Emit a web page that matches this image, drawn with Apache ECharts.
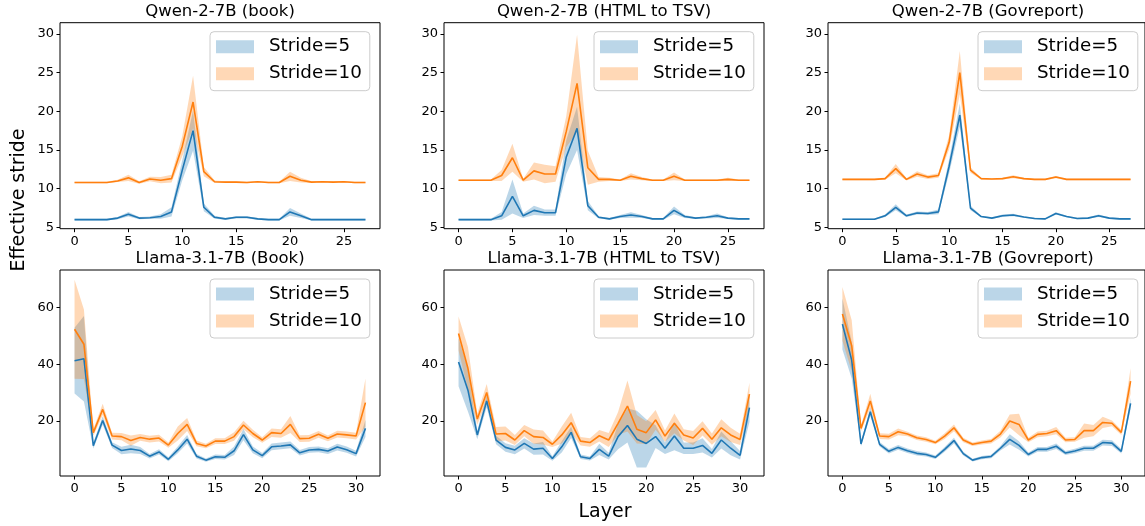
<!DOCTYPE html>
<html>
<head>
<meta charset="utf-8">
<script src="https://cdn.jsdelivr.net/npm/echarts@6/dist/echarts.min.js"></script>
<style>
  html, body { margin: 0; padding: 0; background: #fff; }
  #chart { width: 1145px; height: 526px; }
</style>
</head>
<body>
<div id="chart"></div>
<script>
// x values (layer index)
const qwenLayers = [0,1,2,3,4,5,6,7,8,9,10,11,12,13,14,15,16,17,18,19,20,21,22,23,24,25,26,27];
const llamaLayers = [0,1,2,3,4,5,6,7,8,9,10,11,12,13,14,15,16,17,18,19,20,21,22,23,24,25,26,27,28,29,30,31];

// Qwen-2-7B (book)
const qwenBook5 = [6.0,6.0,6.0,6.0,6.2,6.7,6.2,6.25,6.4,7.0,12.4,17.5,7.6,6.3,6.1,6.3,6.3,6.1,6.0,6.0,7.0,6.5,6.0,6.0,6.0,6.0,6.0,6.0];
const qwenBook5Std = [0.1,0.1,0.1,0.1,0.15,0.3,0.15,0.15,0.3,0.6,1.3,2.6,0.5,0.2,0.1,0.15,0.15,0.1,0.1,0.1,0.5,0.3,0.1,0.1,0.1,0.1,0.1,0.1];
const qwenBook10 = [10.8,10.8,10.8,10.8,11.0,11.4,10.8,11.25,11.1,11.3,15.5,21.2,12.2,10.9,10.85,10.85,10.8,10.9,10.8,10.8,11.6,11.1,10.85,10.9,10.85,10.9,10.8,10.8];
const qwenBook10Std = [0.1,0.1,0.1,0.1,0.15,0.4,0.15,0.3,0.4,0.5,1.3,3.4,0.6,0.15,0.1,0.1,0.1,0.1,0.1,0.1,0.6,0.3,0.1,0.1,0.1,0.1,0.1,0.1];

// Qwen-2-7B (HTML to TSV)
const qwenHtml5 = [6.0,6.0,6.0,6.0,6.5,9.0,6.5,7.2,6.9,6.9,14.1,17.8,7.8,6.3,6.1,6.4,6.6,6.4,6.1,6.1,7.2,6.4,6.2,6.3,6.5,6.2,6.1,6.1];
const qwenHtml5Std = [0.1,0.1,0.1,0.1,0.5,2.2,0.3,0.6,0.4,0.4,2.2,2.8,0.6,0.15,0.1,0.2,0.35,0.2,0.1,0.1,0.5,0.2,0.1,0.15,0.3,0.1,0.1,0.1];
const qwenHtml10 = [11.1,11.1,11.1,11.1,11.7,14.0,11.1,12.3,11.9,11.9,17.4,23.6,12.7,11.2,11.2,11.1,11.6,11.3,11.1,11.1,11.6,11.1,11.1,11.1,11.1,11.2,11.1,11.1];
const qwenHtml10Std = [0.1,0.1,0.1,0.1,0.7,1.8,0.2,1.1,1.2,1.0,2.0,6.3,2.2,0.3,0.2,0.1,0.4,0.2,0.1,0.1,0.5,0.1,0.1,0.1,0.1,0.2,0.1,0.1];

// Qwen-2-7B (Govreport)
const qwenGov5 = [6.05,6.05,6.05,6.05,6.5,7.6,6.5,6.85,6.8,7.0,12.9,19.5,7.5,6.4,6.2,6.5,6.6,6.35,6.15,6.1,6.8,6.4,6.15,6.2,6.5,6.2,6.1,6.1];
const qwenGov5Std = [0.1,0.1,0.1,0.1,0.15,0.4,0.15,0.2,0.2,0.3,0.9,1.5,0.3,0.1,0.1,0.15,0.15,0.1,0.1,0.1,0.15,0.1,0.1,0.1,0.15,0.1,0.1,0.1];
const qwenGov10 = [11.2,11.2,11.2,11.2,11.3,12.6,11.2,11.9,11.5,11.7,16.0,25.0,12.4,11.3,11.25,11.3,11.55,11.3,11.2,11.2,11.5,11.2,11.2,11.2,11.2,11.2,11.2,11.2];
const qwenGov10Std = [0.1,0.1,0.1,0.1,0.15,0.6,0.15,0.35,0.25,0.3,0.9,2.8,0.35,0.1,0.1,0.1,0.2,0.1,0.1,0.1,0.15,0.1,0.1,0.1,0.1,0.1,0.1,0.1];

// Llama-3.1-7B (Book)
const llamaBook5 = [41.3,42.0,11.3,20.2,11.5,9.6,10.1,9.6,7.6,9.1,6.5,9.8,13.6,7.6,6.2,7.4,7.2,9.5,15.2,9.8,7.8,10.9,11.2,11.6,8.8,9.8,10.0,9.4,10.8,9.9,8.5,17.4];
const llamaBook5Std = [11.6,15.1,1.0,1.5,1.0,1.3,1.5,1.2,0.8,0.9,0.7,1.2,1.5,0.8,0.6,0.8,0.8,1.5,2.0,1.2,0.9,1.2,1.2,1.2,1.0,1.0,1.0,1.0,1.2,1.1,1.0,3.0];
const llamaBook10 = [52.4,47.1,15.9,24.1,14.7,14.5,13.1,14.2,13.6,14.0,11.5,15.6,18.8,12.1,11.2,12.9,12.9,14.5,18.6,15.6,13.3,15.9,15.6,18.8,13.8,13.9,15.3,13.9,15.4,15.1,14.7,26.5];
const llamaBook10Std = [17.5,12.3,1.2,2.0,1.2,1.3,1.8,1.2,1.2,1.2,0.9,2.5,2.3,1.0,0.8,1.0,1.0,1.5,1.5,1.3,1.0,1.5,1.5,3.0,1.2,1.2,1.2,1.0,1.2,1.2,1.2,8.5];

// Llama-3.1-7B (HTML to TSV)
const llamaHtml5 = [40.8,30.9,15.1,27.1,13.3,10.7,9.8,12.1,10.1,10.4,6.8,10.9,16.0,7.4,6.8,10.0,7.6,14.5,18.4,13.6,12.1,14.5,10.4,14.7,10.4,10.4,11.4,8.6,13.3,10.4,7.9,24.7];
const llamaHtml5Std = [8.5,7.5,1.5,2.2,1.5,1.5,1.5,1.8,2.0,2.2,0.8,2.0,2.0,0.8,0.7,2.0,1.2,4.5,6.0,10.0,8.5,4.0,2.0,5.0,2.0,2.0,2.5,1.5,3.0,2.5,1.5,5.0];
const llamaHtml10 = [50.9,38.6,20.7,30.1,15.4,15.6,13.3,16.6,14.5,14.2,11.8,15.1,19.4,12.9,12.4,14.8,13.3,19.2,25.3,17.1,15.9,20.4,14.7,19.2,15.1,14.0,17.4,13.6,17.6,15.1,13.5,29.5];
const llamaHtml10Std = [6.0,7.5,2.0,3.0,2.5,2.5,1.8,2.0,2.5,2.5,1.0,3.0,3.5,1.5,1.5,2.0,2.5,4.0,9.0,5.0,4.0,3.5,2.0,3.5,2.0,2.5,2.5,2.0,3.0,2.5,2.0,4.0];

// Llama-3.1-7B (Govreport)
const llamaGov5 = [54.2,41.5,11.9,23.3,11.8,9.3,10.7,9.5,8.6,8.2,7.2,10.0,13.1,8.5,6.2,7.1,7.5,10.4,13.5,11.4,8.2,10.0,10.0,11.1,8.7,9.4,10.4,10.4,12.4,12.2,9.3,26.2];
const llamaGov5Std = [9.0,6.5,0.8,1.5,0.8,0.8,0.8,0.8,0.8,0.7,0.6,0.8,1.0,0.7,0.5,0.6,0.6,0.8,1.8,1.5,0.7,0.8,0.8,1.0,0.7,0.8,0.9,0.9,1.0,1.0,0.8,2.0];
const llamaGov10 = [57.8,46.6,17.4,27.1,14.7,14.5,16.2,15.4,14.1,13.5,12.4,14.7,17.6,13.3,11.8,12.4,12.9,15.4,20.0,18.8,13.3,15.3,15.6,16.6,13.3,13.5,16.6,16.6,19.5,19.2,16.0,34.1];
const llamaGov10Std = [9.5,9.0,1.0,2.5,1.0,1.0,1.2,0.8,0.8,0.8,0.6,1.0,1.2,0.8,0.6,0.7,0.8,1.2,2.3,3.8,0.8,1.0,1.0,1.3,0.8,0.8,2.5,2.0,2.0,1.0,0.9,4.5];

const panelTitles = ["Qwen-2-7B (book)", "Qwen-2-7B (HTML to TSV)", "Qwen-2-7B (Govreport)",
                     "Llama-3.1-7B (Book)", "Llama-3.1-7B (HTML to TSV)", "Llama-3.1-7B (Govreport)"];
const legendNames = ["Stride=5", "Stride=10"];
const qwenXTicks = [0,5,10,15,20,25];
const llamaXTicks = [0,5,10,15,20,25,30];
const qwenYTicks = [5,10,15,20,25,30];
const llamaYTicks = [20,40,60];

const FONT = "DejaVu Sans";
const BLUE = "#1f77b4", ORANGE = "#ff7f0e";
const BLUE_BAND = "rgba(31,119,180,0.3)", ORANGE_BAND = "rgba(255,127,14,0.3)";

const panels = [
  {x: qwenLayers, s5: qwenBook5, e5: qwenBook5Std, s10: qwenBook10, e10: qwenBook10Std},
  {x: qwenLayers, s5: qwenHtml5, e5: qwenHtml5Std, s10: qwenHtml10, e10: qwenHtml10Std},
  {x: qwenLayers, s5: qwenGov5, e5: qwenGov5Std, s10: qwenGov10, e10: qwenGov10Std},
  {x: llamaLayers, s5: llamaBook5, e5: llamaBook5Std, s10: llamaBook10, e10: llamaBook10Std},
  {x: llamaLayers, s5: llamaHtml5, e5: llamaHtml5Std, s10: llamaHtml10, e10: llamaHtml10Std},
  {x: llamaLayers, s5: llamaGov5, e5: llamaGov5Std, s10: llamaGov10, e10: llamaGov10Std}
];

const lefts = [60, 444, 828];
const tops = [22.7, 270];
const W = 320, H = 206;

let grids = [], xAxes = [], yAxes = [], legends = [], series = [], graphics = [];

// band = mean +- std, drawn as one polygon through the axis scales
function bandSeries(name, rows, color, idx) {
  return {
    name: name,
    type: "custom",
    xAxisIndex: idx,
    yAxisIndex: idx,
    silent: true,
    itemStyle: {color: color},
    encode: {x: 0, y: [1, 2]},
    data: rows,
    renderItem: function (params, api) {
      if (params.dataIndex !== 0) return null;
      let upper = rows.map(r => api.coord([r[0], r[2]]));
      let lower = rows.map(r => api.coord([r[0], r[1]])).reverse();
      return {
        type: "polygon",
        shape: {points: upper.concat(lower)},
        style: {fill: color, stroke: null}
      };
    }
  };
}

function lineSeries(name, xs, ys, color, idx) {
  return {
    name: name,
    type: "line",
    xAxisIndex: idx,
    yAxisIndex: idx,
    showSymbol: false,
    symbol: "none",
    silent: true,
    lineStyle: {width: 1.6, color: color},
    itemStyle: {color: color},
    data: xs.map((x, i) => [x, ys[i]])
  };
}

panels.forEach((p, i) => {
  let row = i < 3 ? 0 : 1;
  let L = lefts[i % 3], T = tops[row];
  let isQwen = row === 0;
  grids.push({left: L, top: T, width: W, height: H, show: true, borderColor: "#000", borderWidth: 1, backgroundColor: "transparent"});
  let tickStyle = {show: true, inside: false, length: 3.5, lineStyle: {color: "#000", width: 1}};
  let labelStyle = {color: "#000", fontSize: 13, fontFamily: FONT, margin: 6};
  xAxes.push({
    type: "value", gridIndex: i,
    min: isQwen ? -1.35 : -1.55, max: isQwen ? 28.35 : 32.55,
    axisLine: {show: false, onZero: false},
    splitLine: {show: false},
    axisTick: Object.assign({}, tickStyle, {customValues: isQwen ? qwenXTicks : llamaXTicks}),
    axisLabel: Object.assign({}, labelStyle, {customValues: isQwen ? qwenXTicks : llamaXTicks})
  });
  yAxes.push({
    type: "value", gridIndex: i,
    min: isQwen ? 4.83 : 0.6, max: isQwen ? 31.45 : 73.3,
    axisLine: {show: false, onZero: false},
    splitLine: {show: false},
    axisTick: Object.assign({}, tickStyle, {customValues: isQwen ? qwenYTicks : llamaYTicks}),
    axisLabel: Object.assign({}, labelStyle, {customValues: isQwen ? qwenYTicks : llamaYTicks})
  });

  let rows5 = p.x.map((x, k) => [x, p.s5[k] - p.e5[k], p.s5[k] + p.e5[k]]);
  let rows10 = p.x.map((x, k) => [x, p.s10[k] - p.e10[k], p.s10[k] + p.e10[k]]);
  series.push(bandSeries(legendNames[0], rows5, BLUE_BAND, i));
  series.push(lineSeries("mean5", p.x, p.s5, BLUE, i));
  series.push(bandSeries(legendNames[1], rows10, ORANGE_BAND, i));
  series.push(lineSeries("mean10", p.x, p.s10, ORANGE, i));

  legends.push({
    left: L + 150, top: T + 9,
    orient: "vertical",
    selectedMode: false,
    data: [
      {name: legendNames[0], itemStyle: {color: BLUE_BAND, borderWidth: 0}},
      {name: legendNames[1], itemStyle: {color: ORANGE_BAND, borderWidth: 0}}
    ],
    icon: "rect",
    itemWidth: 38, itemHeight: 13, itemGap: 7,
    padding: [5, 8, 7, 6],
    backgroundColor: "rgba(255,255,255,0.8)",
    borderColor: "#cccccc", borderWidth: 1, borderRadius: 4,
    textStyle: {fontSize: 18.3, fontFamily: FONT, color: "#000", lineHeight: 20, padding: [0, 0, 0, 10]}
  });

  graphics.push({
    type: "text", x: L + W / 2, y: row === 0 ? 12 : 259,
    style: {text: panelTitles[i], fontSize: 16.5, fontFamily: FONT, fill: "#000", align: "center", verticalAlign: "middle"}
  });
});

graphics.push({
  type: "text", x: 19, y: 200, rotation: Math.PI / 2,
  style: {text: "Effective stride", fontSize: 19, fontFamily: FONT, fill: "#000", align: "center", verticalAlign: "middle"}
});
graphics.push({
  type: "text", x: 605, y: 512,
  style: {text: "Layer", fontSize: 19, fontFamily: FONT, fill: "#000", align: "center", verticalAlign: "middle"}
});

let chart = echarts.init(document.getElementById("chart"), null, {renderer: "canvas"});
chart.setOption({
  backgroundColor: "#fff",
  animation: false,
  grid: grids,
  xAxis: xAxes,
  yAxis: yAxes,
  legend: legends,
  series: series,
  graphic: graphics
});
</script>
</body>
</html>
